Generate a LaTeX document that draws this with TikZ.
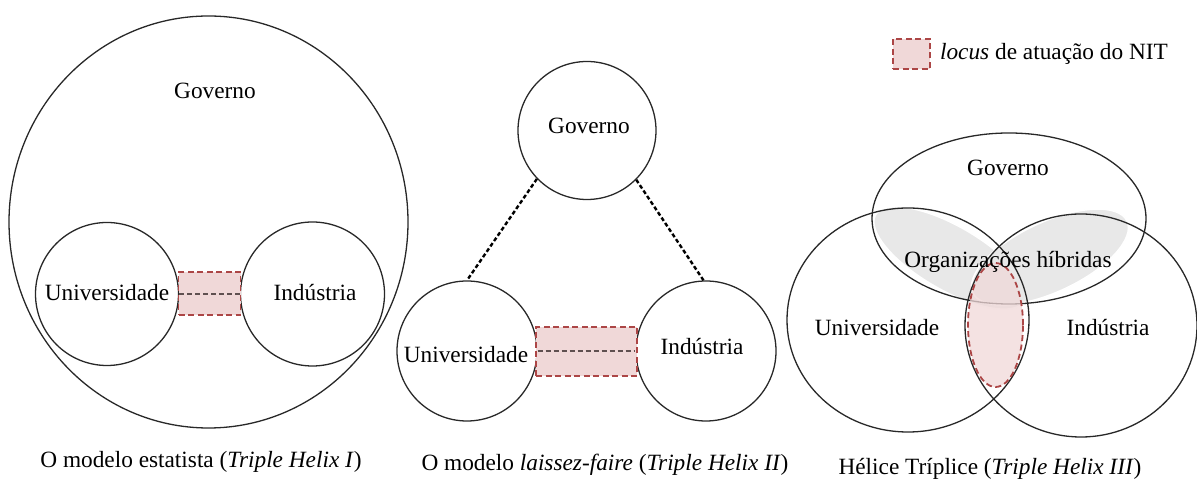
\documentclass[tikz,border=0pt]{standalone}
\usepackage{fontspec}
\setmainfont{Liberation Serif}
\usetikzlibrary{shapes.geometric}

\definecolor{outline}{RGB}{40,40,40}
\definecolor{locusfill}{RGB}{240,216,216}
\definecolor{locusdraw}{RGB}{172,70,70}
\definecolor{locusline}{RGB}{95,80,80}
\definecolor{hybrid}{RGB}{232,232,232}

\tikzset{
  sphere/.style={circle, draw=outline, line width=1.3pt, inner sep=0pt, minimum size=#1},
  oval/.style n args={2}{ellipse, draw=outline, line width=1.3pt, inner sep=0pt,
                         minimum width=#1, minimum height=#2},
  locusbox/.style n args={2}{rectangle, fill=locusfill, draw=locusdraw, line width=1.8pt,
                         dash pattern=on 6pt off 3.5pt, inner sep=0pt,
                         minimum width=#1, minimum height=#2},
  locuslink/.style={draw=locusline, line width=1.8pt, dash pattern=on 5pt off 3pt},
  tie/.style={draw=black, line width=2.4pt, dash pattern=on 4pt off 2.5pt},
  lobe/.style n args={2}{ellipse, fill=hybrid, draw=white, line width=1.5pt, inner sep=0pt,
                         minimum width=#1, minimum height=#2},
  lbl/.style={inner sep=0pt, text=black}
}

\begin{document}
\begin{tikzpicture}[x=1pt, y=1pt, font=\fontsize{23.3}{28}\selectfont]
\useasboundingbox (0,0) rectangle (1197,481);

% ---------- Triple Helix I: state model ----------
\node[oval={399}{412}] (govA) at (208.5,259) {};
\node[sphere=143] (uniA) at (107,187) {};
\node[sphere=144] (indA) at (312.5,187) {};
\node[locusbox={62}{43}] (locA) at (209.5,187.5) {};
\draw[locuslink] (uniA.east) -- (indA.west);
\node[lbl] (govAtxt) at (215,390) {Governo};
\node[lbl] (uniAtxt) at (107,188) {Universidade};
\node[lbl] (indAtxt) at (315,188) {Indústria};
\node[lbl] (capA) at (201,19) {O modelo estatista (\textit{Triple Helix I})};

% ---------- Triple Helix II: laissez-faire ----------
\node[sphere=138] (govB) at (587,350.5) {};
\node[sphere=140] (uniB) at (467,130) {};
\node[sphere=140] (indB) at (706,130) {};
\node[locusbox={101}{49}] (locB) at (586.5,129.5) {};
\draw[locuslink] (uniB.east) -- (indB.west);
\draw[tie] (govB.224) -- (uniB.90);
\draw[tie] (govB.315) -- (indB.92);
\node[lbl] (govBtxt) at (589,355) {Governo};
\node[lbl] (uniBtxt) at (466,126) {Universidade};
\node[lbl] (indBtxt) at (702,134) {Indústria};
\node[lbl] (capB) at (605,16) {O modelo \textit{laissez-faire} (\textit{Triple Helix II})};

% ---------- Triple Helix III: overlapping spheres ----------
\node[lobe={172}{64}, rotate=-30] (hybL) at (950,223) {};
\node[lobe={170}{70}, rotate=25] (hybR) at (1050,224) {};
\node[oval={274}{171}] (govC) at (1009,262.5) {};
\node[oval={242}{224}] (uniC) at (908,161) {};
\node[oval={232}{223}] (indC) at (1081,155.5) {};
\node[ellipse, inner sep=0pt, minimum width=55, minimum height=124,
      fill=locusfill, fill opacity=0.75, draw=locusdraw, line width=1.8pt,
      dash pattern=on 6pt off 3.5pt] (locC) at (995.5,156) {};
\node[lbl] (govCtxt) at (1008,313) {Governo};
\node[lbl] (hybtxt) at (1008,219) {Organizações híbridas};
\node[lbl] (uniCtxt) at (877,153) {Universidade};
\node[lbl] (indCtxt) at (1108,153) {Indústria};
\node[lbl] (capC) at (990,12) {Hélice Tríplice (\textit{Triple Helix III})};

% ---------- legend ----------
\node[locusbox={37}{30}] (key) at (911.5,427) {};
\node[lbl, anchor=west] (keytxt) at ([xshift=9pt]key.east) {\textit{locus} de atuação do NIT};
\end{tikzpicture}
\end{document}
